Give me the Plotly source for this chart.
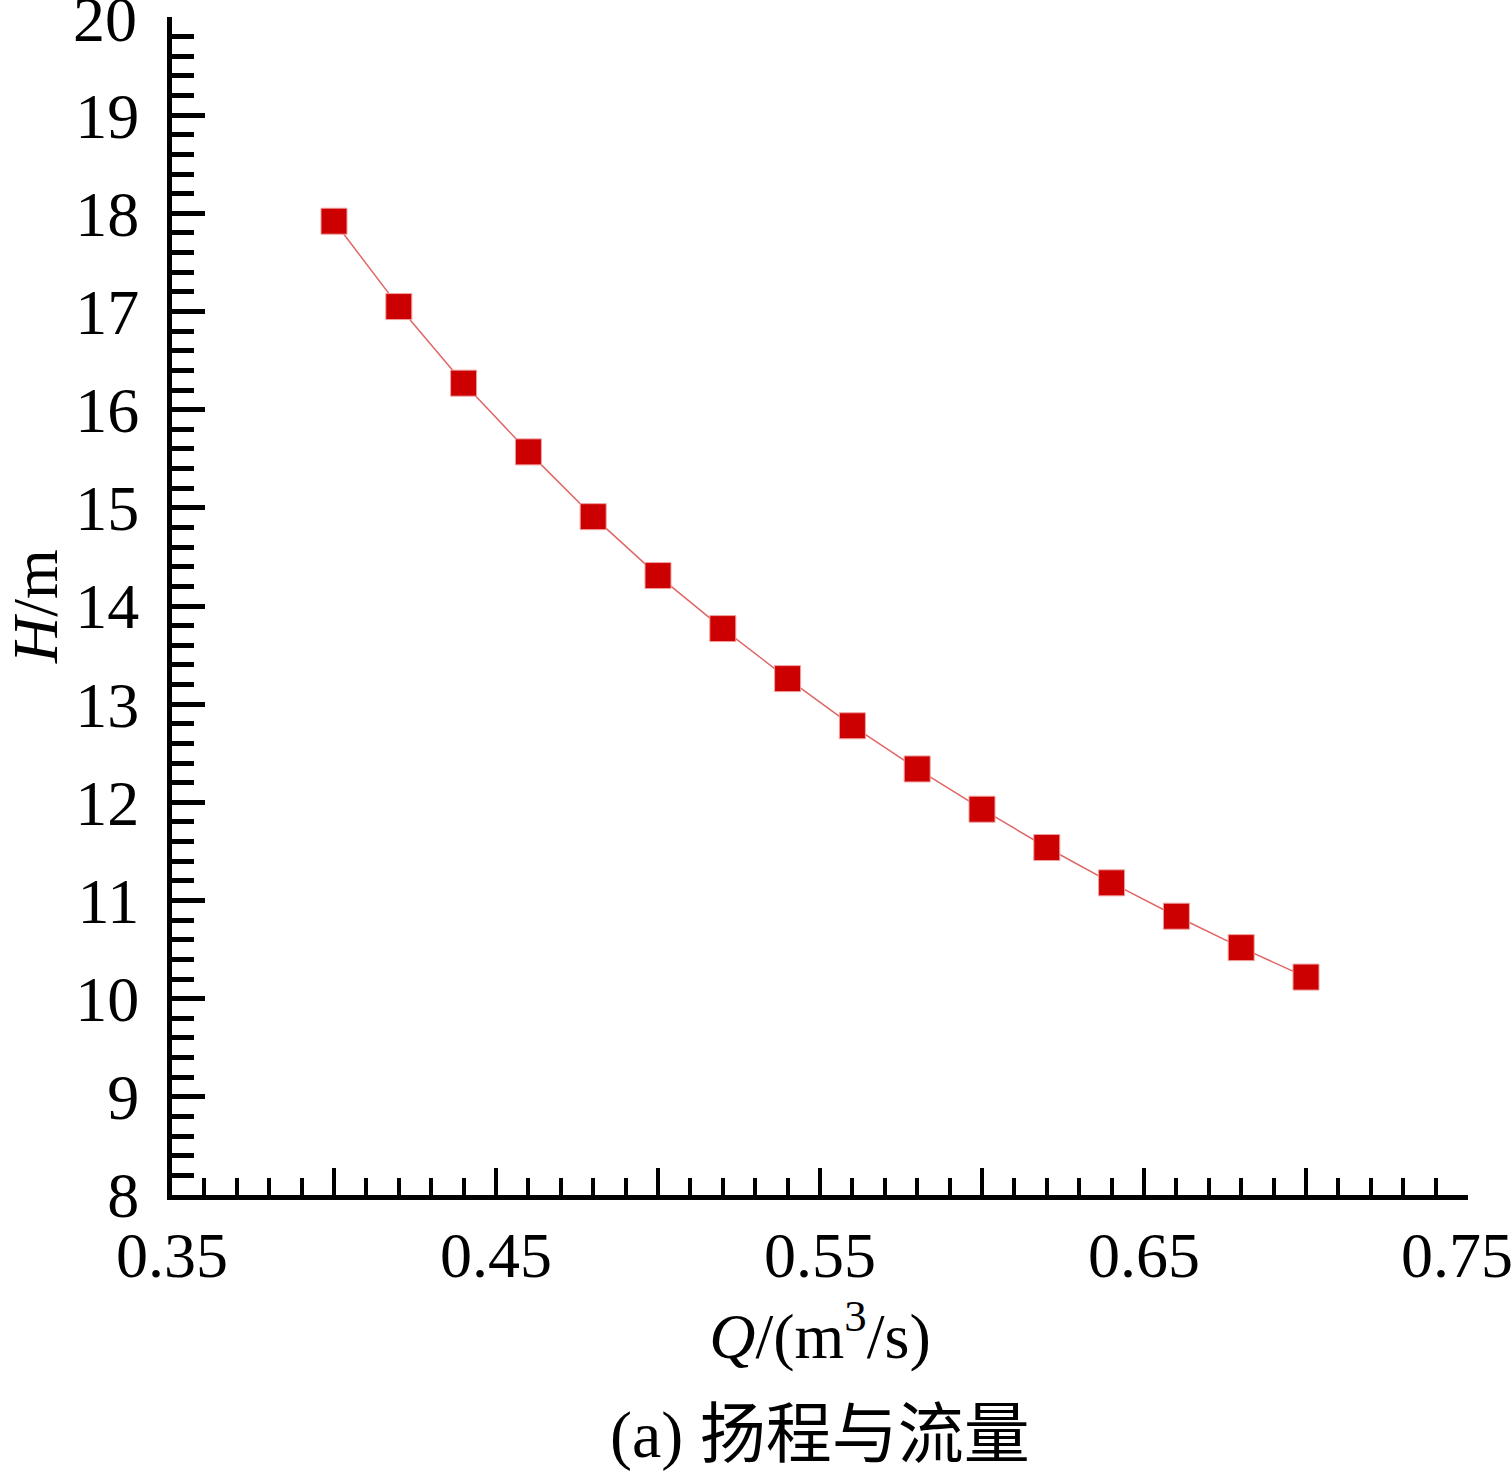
import plotly.graph_objects as go

# flow rate Q [m3/s] and head H [m]
flow_q = [0.40, 0.42, 0.44, 0.46, 0.48, 0.50, 0.52, 0.54,
          0.56, 0.58, 0.60, 0.62, 0.64, 0.66, 0.68, 0.70]
head_h = [17.92, 17.05, 16.27, 15.57, 14.91, 14.31, 13.77, 13.26,
          12.78, 12.34, 11.93, 11.54, 11.18, 10.84, 10.52, 10.22]

x_tickvals = [0.35, 0.40, 0.45, 0.50, 0.55, 0.60, 0.65, 0.70, 0.75]
x_ticktext = ["0.35", "", "0.45", "", "0.55", "", "0.65", "", ""]
y_tickvals = [8, 9, 10, 11, 12, 13, 14, 15, 16, 17, 18, 19, 20]
y_ticktext = ["8", "9", "10", "11", "12", "13", "14", "15", "16", "17",
              "18", "19", ""]

serif = "Liberation Serif, Times New Roman, serif"
font_size = 64
tick_font = dict(family=serif, size=font_size, color="black")

fig = go.Figure()
fig.add_trace(go.Scatter(
    x=flow_q, y=head_h, mode="lines+markers",
    line=dict(color="#e06666", width=1.5),
    marker=dict(symbol="square", size=26, color="#cc0000",
                line=dict(color="#f0a0a0", width=1)),
    showlegend=False,
    cliponaxis=False,
))

fig.update_xaxes(
    range=[0.35, 0.75], automargin=False,
    tickmode="array", tickvals=x_tickvals, ticktext=x_ticktext,
    ticks="inside", ticklen=27, tickwidth=4, tickcolor="black",
    minor=dict(dtick=0.01, tick0=0.35, ticks="inside", ticklen=17,
               tickwidth=4, tickcolor="black"),
    showline=True, linecolor="black", linewidth=5,
    showgrid=False, zeroline=False,
    tickfont=tick_font,
    ticklabeloverflow="allow",
    ticklabelstandoff=0,
    title=dict(text="<i>Q</i>/(m<sup>3</sup>/s)",
               font=dict(family=serif, size=font_size, color="black"),
               standoff=12),
)
fig.update_yaxes(
    range=[8, 20], automargin=False,
    tickmode="array", tickvals=y_tickvals, ticktext=y_ticktext,
    ticks="inside", ticklen=33, tickwidth=5, tickcolor="black",
    minor=dict(dtick=0.2, tick0=8, ticks="inside", ticklen=22,
               tickwidth=5, tickcolor="black"),
    showline=True, linecolor="black", linewidth=5,
    showgrid=False, zeroline=False,
    tickfont=tick_font,
    ticklabeloverflow="allow",
    ticklabelstandoff=15,
    title=dict(text="<i>H</i>/m",
               font=dict(family=serif, size=font_size, color="black"),
               standoff=60),
)

# end labels nudged inwards so they stay inside the page, as in the source
fig.add_annotation(
    text="0.75", x=x_tickvals[-1], xref="x", y=0, yref="paper",
    xanchor="center", yanchor="top", yshift=-23, xshift=-11,
    showarrow=False, font=tick_font,
)
fig.add_annotation(
    text="20", x=0, xref="paper", y=y_tickvals[-1], yref="y",
    xanchor="right", yanchor="middle", xshift=-33, yshift=-2,
    showarrow=False, font=tick_font,
)

fig.add_annotation(
    text="(a) 扬程与流量", xref="paper", yref="paper",
    x=0.5, y=-0.204, xanchor="center", yanchor="middle", showarrow=False,
    font=dict(family="Liberation Serif, Noto Sans CJK SC", size=66,
              color="black"),
)

fig.update_layout(
    width=1512, height=1475,
    margin=dict(l=172, r=44, t=17, b=280),
    plot_bgcolor="white", paper_bgcolor="white",
)

# drop the default page margin so the figure sits at the window corner
fig.write_html("out.html", config={"displayModeBar": False},
               post_script="document.body.style.margin='0';")
